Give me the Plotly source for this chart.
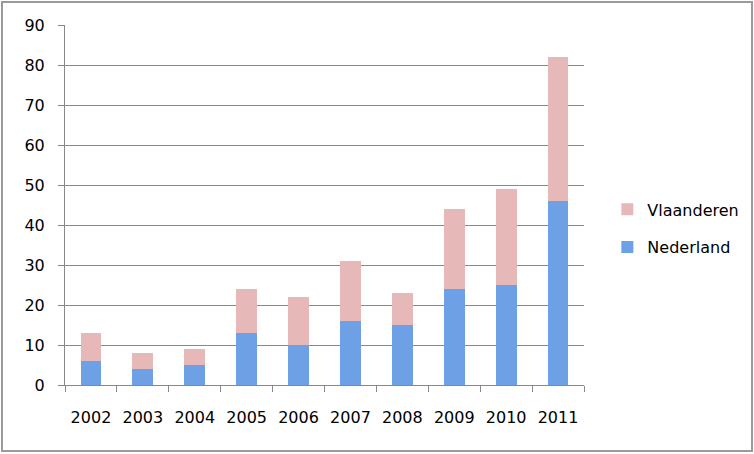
import plotly.graph_objects as go

years = ["2002", "2003", "2004", "2005", "2006", "2007", "2008", "2009", "2010", "2011"]
nederland = [6, 4, 5, 13, 10, 16, 15, 24, 25, 46]
vlaanderen = [7, 4, 4, 11, 12, 15, 8, 20, 24, 36]
y_ticks = [0, 10, 20, 30, 40, 50, 60, 70, 80, 90]

font_family = "'DejaVu Sans', sans-serif"

fig = go.Figure()
fig.add_trace(go.Bar(
    x=years, y=nederland, name="Nederland", legendgroup="n", legendrank=2,
    marker=dict(color="#6ea0e6", line=dict(width=0)),
))
fig.add_trace(go.Bar(
    x=years, y=vlaanderen, name="Vlaanderen", legendgroup="v", legendrank=1,
    marker=dict(color="#e6b8b7", line=dict(width=0)),
))

fig.update_layout(
    barmode="stack",
    bargap=0.6,
    width=754, height=454,
    margin=dict(l=65, r=170, t=25, b=69, autoexpand=False),
    paper_bgcolor="white",
    plot_bgcolor="white",
    font=dict(family=font_family, size=16, color="black"),
    showlegend=True,
    legend=dict(
        x=1.045, y=0.435, xanchor="left", yanchor="middle",
        traceorder="grouped", tracegroupgap=14,
        font=dict(size=16, family=font_family),
        bgcolor="rgba(0,0,0,0)",
    ),
    xaxis=dict(
        type="category",
        showline=True, linecolor="#888888", linewidth=1,
        ticks="outside", tickson="boundaries", ticklen=6, tickcolor="#888888",
        showgrid=False,
        ticklabelstandoff=18,
    ),
    yaxis=dict(
        range=[0, 90],
        tickvals=y_ticks,
        showline=True, linecolor="#888888", linewidth=1,
        ticks="outside", ticklen=6, tickcolor="#888888",
        showgrid=True, gridcolor="#888888", gridwidth=1,
        zeroline=False,
        ticklabelstandoff=10,
    ),
    shapes=[dict(
        type="rect", xref="paper", yref="paper",
        x0=-0.1214, x1=1.3237, y0=-0.1833, y1=1.0639,
        line=dict(color="#9a9a9a", width=2), fillcolor="rgba(0,0,0,0)",
        layer="below",
    )],
)

fig.write_html("out.html", config={"displayModeBar": False},
               post_script="document.body.style.margin='0';")
